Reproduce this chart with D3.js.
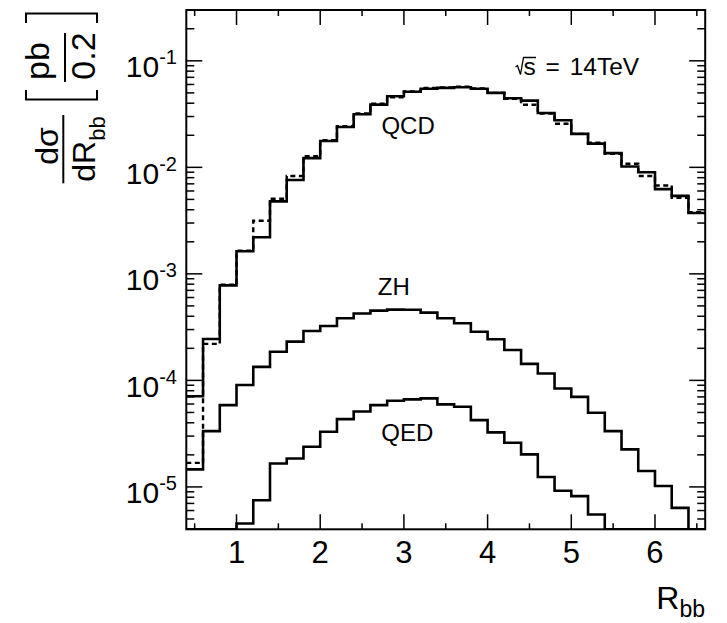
<!DOCTYPE html>
<html>
<head>
<meta charset="utf-8">
<script src="https://cdn.jsdelivr.net/npm/d3@7"></script>
<style>
  body { margin: 0; background: #fff; }
  svg { display: block; }
  text { font-family: "Liberation Sans", Arial, Helvetica, sans-serif; fill: #000; }
</style>
</head>
<body>
<svg id="chart" width="727" height="623"></svg>
<script>
// Lower edges of the R_bb bins (bin width 0.2)
const binLow = [0.4, 0.6, 0.8, 1.0, 1.2, 1.4, 1.6, 1.8, 2.0, 2.2, 2.4, 2.6, 2.8, 3.0, 3.2, 3.4,
                3.6, 3.8, 4.0, 4.2, 4.4, 4.6, 4.8, 5.0, 5.2, 5.4, 5.6, 5.8, 6.0, 6.2, 6.4];
const binWidth = 0.2;

// dσ/dR_bb in pb per bin (0 = empty bin)
const qcdSolid = [7.1e-5, 2.45e-4, 7.8e-4, 1.63e-3, 2.21e-3, 4.79e-3, 7.6e-3, 1.22e-2, 1.77e-2, 2.39e-2,
                  3.15e-2, 3.88e-2, 4.65e-2, 5.12e-2, 5.46e-2, 5.57e-2, 5.65e-2, 5.46e-2, 5.0e-2, 4.45e-2,
                  4.23e-2, 3.24e-2, 2.77e-2, 2.06e-2, 1.67e-2, 1.36e-2, 1.02e-2, 9.0e-3, 6.25e-3, 5.4e-3, 3.73e-3];
const qcdDashed = [1.68e-5, 2.2e-4, 7.9e-4, 1.65e-3, 3.15e-3, 5.07e-3, 8.3e-3, 1.27e-2, 1.8e-2, 2.44e-2,
                   3.2e-2, 3.95e-2, 4.55e-2, 5.15e-2, 5.55e-2, 5.62e-2, 5.72e-2, 5.5e-2, 5.0e-2, 4.4e-2,
                   3.87e-2, 3.2e-2, 2.57e-2, 2.06e-2, 1.7e-2, 1.34e-2, 1.08e-2, 8.3e-3, 6.76e-3, 5.18e-3, 3.8e-3];
const zh = [1.46e-5, 3.34e-5, 5.86e-5, 9.04e-5, 1.34e-4, 1.86e-4, 2.31e-4, 2.91e-4, 3.24e-4, 3.83e-4,
            4.24e-4, 4.52e-4, 4.62e-4, 4.6e-4, 4.33e-4, 3.83e-4, 3.44e-4, 2.86e-4, 2.43e-4, 1.93e-4,
            1.43e-4, 1.16e-4, 8.4e-5, 7.0e-5, 4.97e-5, 3.34e-5, 2.25e-5, 1.41e-5, 1.02e-5, 6.35e-6, 0];
const qed = [0, 0, 0, 4.53e-6, 7.5e-6, 1.66e-5, 1.85e-5, 2.38e-5, 3.29e-5, 4.33e-5,
             5.1e-5, 5.86e-5, 6.44e-5, 6.64e-5, 6.78e-5, 5.96e-5, 5.65e-5, 4.24e-5, 3.25e-5, 2.6e-5,
             2.02e-5, 1.24e-5, 9.2e-6, 8.2e-6, 5.5e-6, 0, 0, 0, 0, 0, 0];

// Axis ticks and labels
const xMajor = [1, 2, 3, 4, 5, 6];
const xMinor = [0.5, 1.5, 2.5, 3.5, 4.5, 5.5, 6.5];
const yDecades = [1e-5, 1e-4, 1e-3, 1e-2, 1e-1];
const yExponents = ["-5", "-4", "-3", "-2", "-1"];
const yMinorMantissa = [2, 3, 4, 5, 6, 7, 8, 9];

// Curve annotations
const curveLabels = [
  { text: "QCD", x: 3.05, v: 2.05e-2 },
  { text: "ZH", x: 2.88, v: 6.3e-4 },
  { text: "QED", x: 3.04, v: 2.7e-5 }
];

const svg = d3.select("#chart");
const x = d3.scaleLinear().domain([0.4, 6.6]).range([186.3, 705.2]);
const y = d3.scaleLog().domain([4e-6, 0.3]).range([529.3, 10]);
const [x0, x1] = x.range();
const [yB, yT] = y.range();

svg.append("defs").append("clipPath").attr("id", "plotClip")
  .append("rect").attr("x", x0).attr("y", yT).attr("width", x1 - x0).attr("height", yB - yT);

// Histogram outline as a step path
function stepPoints(values) {
  const lo = y.domain()[0];
  const pts = binLow.map((b, i) => [b, Math.max(values[i], lo)]);
  pts.push([binLow[binLow.length - 1] + binWidth, Math.max(values[values.length - 1], lo)]);
  return pts;
}
const line = d3.line().x(d => x(d[0])).y(d => y(d[1])).curve(d3.curveStepAfter);

const plot = svg.append("g").attr("clip-path", "url(#plotClip)");
[
  { data: qcdSolid, dash: null, w: 2.6 },
  { data: zh, dash: null, w: 2.6 },
  { data: qed, dash: null, w: 2.6 },
  { data: qcdDashed, dash: "5,3.5", w: 2.4 }
].forEach(s => {
  plot.append("path")
    .attr("d", line(stepPoints(s.data)))
    .attr("fill", "none")
    .attr("stroke", "#000")
    .attr("stroke-width", s.w)
    .attr("stroke-dasharray", s.dash)
    .attr("stroke-linejoin", "miter");
});

// Ticks on all four sides
const ticks = svg.append("g").attr("stroke", "#000").attr("stroke-width", 1.5);
xMajor.forEach(v => {
  ticks.append("line").attr("x1", x(v)).attr("x2", x(v)).attr("y1", yB).attr("y2", yB - 15);
  ticks.append("line").attr("x1", x(v)).attr("x2", x(v)).attr("y1", yT).attr("y2", yT + 15);
});
xMinor.forEach(v => {
  ticks.append("line").attr("x1", x(v)).attr("x2", x(v)).attr("y1", yB).attr("y2", yB - 6);
  ticks.append("line").attr("x1", x(v)).attr("x2", x(v)).attr("y1", yT).attr("y2", yT + 6);
});
const yMinorVals = [];
[1e-6, 1e-5, 1e-4, 1e-3, 1e-2, 1e-1].forEach(d => yMinorMantissa.forEach(m => yMinorVals.push(m * d)));
yMinorVals.filter(v => v > y.domain()[0] && v < y.domain()[1]).forEach(v => {
  ticks.append("line").attr("x1", x0).attr("x2", x0 + 8).attr("y1", y(v)).attr("y2", y(v));
  ticks.append("line").attr("x1", x1).attr("x2", x1 - 8).attr("y1", y(v)).attr("y2", y(v));
});
yDecades.forEach(v => {
  ticks.append("line").attr("x1", x0).attr("x2", x0 + 16).attr("y1", y(v)).attr("y2", y(v));
  ticks.append("line").attr("x1", x1).attr("x2", x1 - 16).attr("y1", y(v)).attr("y2", y(v));
});

// Frame
svg.append("rect").attr("x", x0).attr("y", yT).attr("width", x1 - x0).attr("height", yB - yT)
  .attr("fill", "none").attr("stroke", "#000").attr("stroke-width", 2);

// X tick labels
xMajor.forEach(v => {
  svg.append("text").attr("x", x(v)).attr("y", 563).attr("text-anchor", "middle")
    .attr("font-size", 31).text(v);
});

// Y tick labels: 10^n
yDecades.forEach((v, i) => {
  const t = svg.append("text").attr("x", 177).attr("y", y(v) + 16.5).attr("text-anchor", "end")
    .attr("font-size", 30);
  t.append("tspan").text("10");
  t.append("tspan").attr("dy", -13).attr("font-size", 20).text(yExponents[i]);
});

// X axis title: R_bb
const xt = svg.append("text").attr("x", 705).attr("y", 609).attr("text-anchor", "end").attr("font-size", 32);
xt.append("tspan").text("R");
xt.append("tspan").attr("dy", 8).attr("font-size", 23).text("bb");

// Y axis title: dσ/dR_bb [pb/0.2], rotated
const yt = svg.append("g").attr("transform", "rotate(-90)");
yt.append("text").attr("x", -146).attr("y", 58).attr("text-anchor", "middle").attr("font-size", 32).text("dσ");
yt.append("line").attr("x1", -183.3).attr("x2", -115).attr("y1", 63.3).attr("y2", 63.3)
  .attr("stroke", "#000").attr("stroke-width", 2);
const dr = yt.append("text").attr("x", -149).attr("y", 95).attr("text-anchor", "middle").attr("font-size", 32);
dr.append("tspan").text("dR");
dr.append("tspan").attr("dy", 10).attr("font-size", 22).text("bb");
yt.append("text").attr("x", -61).attr("y", 49).attr("text-anchor", "middle").attr("font-size", 34).text("pb");
yt.append("line").attr("x1", -82).attr("x2", -33).attr("y1", 65).attr("y2", 65)
  .attr("stroke", "#000").attr("stroke-width", 2);
yt.append("text").attr("x", -56).attr("y", 95).attr("text-anchor", "middle").attr("font-size", 34).text("0.2");
// square brackets around the unit
const br = d3.path();
br.moveTo(-90, 26); br.lineTo(-99.5, 26); br.lineTo(-99.5, 97); br.lineTo(-90, 97);
br.moveTo(-23, 26); br.lineTo(-13.5, 26); br.lineTo(-13.5, 97); br.lineTo(-23, 97);
yt.append("path").attr("d", br.toString()).attr("fill", "none").attr("stroke", "#000").attr("stroke-width", 2);

// Curve labels
curveLabels.forEach(l => {
  svg.append("text").attr("x", x(l.x)).attr("y", y(l.v)).attr("text-anchor", "middle")
    .attr("font-size", 24).text(l.text);
});

// √s = 14TeV
const rad = d3.path();
rad.moveTo(515.5, 67); rad.lineTo(517.5, 65.5); rad.lineTo(520.5, 74.5); rad.lineTo(523.5, 57.5); rad.lineTo(536, 57.5);
svg.append("path").attr("d", rad.toString()).attr("fill", "none").attr("stroke", "#000").attr("stroke-width", 1.3);
svg.append("text").attr("x", 523.5).attr("y", 74.5).attr("font-size", 24.5).attr("word-spacing", 3).text("s = 14TeV");
</script>
</body>
</html>
